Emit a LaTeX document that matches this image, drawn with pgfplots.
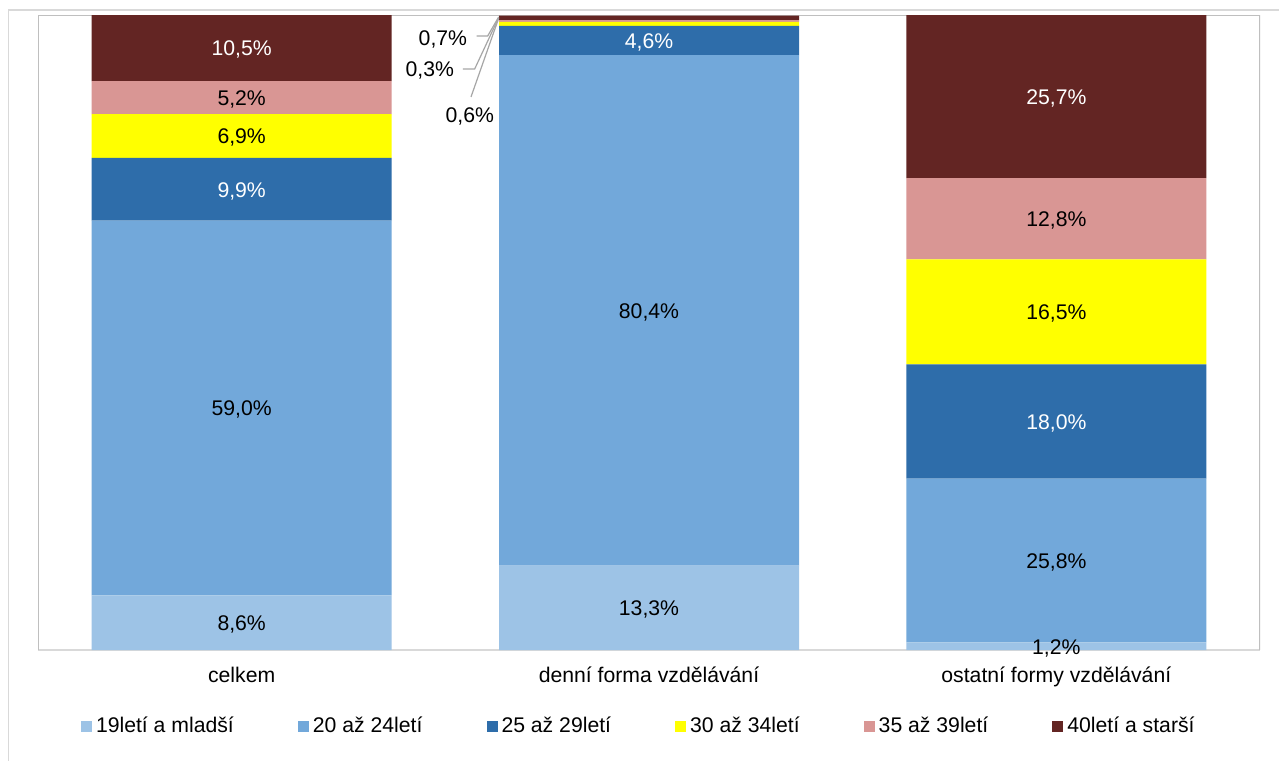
\documentclass[border=0pt]{standalone}
\usepackage{pgfplots}
\pgfplotsset{compat=1.18}
\usepackage{fontspec}
\setmainfont{Liberation Sans}
\definecolor{cA}{HTML}{9DC3E6}
\definecolor{cB}{HTML}{72A8DA}
\definecolor{cC}{HTML}{2E6DAA}
\definecolor{cD}{HTML}{FFFF00}
\definecolor{cE}{HTML}{D99694}
\definecolor{cF}{HTML}{632523}
\definecolor{frameC}{HTML}{BFBFBF}
\definecolor{borderC}{HTML}{D9D9D9}
\definecolor{leadC}{HTML}{A6A6A6}
\newcommand{\chartfont}{\fontsize{10.6}{12.7}\selectfont}
\begin{document}
\begin{tikzpicture}
\useasboundingbox (0,0) rectangle (639.5pt,-380pt);
\fill[white] (0,0) rectangle (639.5pt,-380pt);
\draw[borderC, line width=0.75pt] (4.25pt,-381pt) -- (4.25pt,-5pt) -- (640pt,-5pt);
\begin{axis}[
 at={(19pt,-325pt)}, anchor=south west,
 scale only axis, width=611pt, height=317.5pt,
 xmin=-0.5, xmax=2.5, ymin=0, ymax=100,
 enlargelimits=false,
 ybar stacked, bar width=150pt,
 axis line style={draw=none},
 xtick={0,1,2}, xticklabels={celkem, denní forma vzdělávání, ostatní formy vzdělávání},
 ytick=\empty, major tick length=0pt,
 xticklabel style={font=\chartfont, anchor=base, yshift=-16pt, inner sep=0pt},
 legend columns=6,
 legend style={at={(axis description cs:0.0352,-0.1197)}, anchor=west, draw=none, fill=none,
   inner sep=0pt, outer sep=0pt, font=\chartfont, column sep=0pt, nodes={inner sep=0pt},
   /tikz/every odd column/.append style={column sep=2pt},
   /tikz/every even column/.append style={column sep=32pt}},
 legend image code/.code={\fill[#1] (0pt,-2.75pt) rectangle (5.5pt,2.75pt);},
]
\addplot[fill=cA, draw=none] coordinates {(0,8.6) (1,13.3) (2,1.2)};
\addplot[fill=cB, draw=none] coordinates {(0,59.0) (1,80.4) (2,25.8)};
\addplot[fill=cC, draw=none] coordinates {(0,9.9) (1,4.6) (2,18.0)};
\addplot[fill=cD, draw=none] coordinates {(0,6.9) (1,0.6) (2,16.5)};
\addplot[fill=cE, draw=none] coordinates {(0,5.2) (1,0.3) (2,12.8)};
\addplot[fill=cF, draw=none] coordinates {(0,10.5) (1,0.7) (2,25.7)};
\legend{19letí a mladší, 20 až 24letí, 25 až 29letí, 30 až 34letí, 35 až 39letí, 40letí a starší}
\draw[frameC, line width=0.6pt] (rel axis cs:0,0) -- (rel axis cs:0,1) -- (rel axis cs:1,1) -- (rel axis cs:1,0);
\draw[borderC, line width=1pt] (rel axis cs:0,0) -- (rel axis cs:1,0);
\end{axis}
\begin{axis}[
 at={(19pt,-325pt)}, anchor=south west,
 scale only axis, width=611pt, height=317.5pt,
 xmin=-0.5, xmax=2.5, ymin=0, ymax=100,
 enlargelimits=false, hide axis, clip=false,
 every node near coord/.append style={font=\chartfont, anchor=center, inner sep=0pt, yshift=-0.9pt},
]
\addplot[leadC, line width=0.6pt, no marks] coordinates {(0.577,96.7) (0.604,96.7) (0.631,99.7)};
\addplot[leadC, line width=0.6pt, no marks] coordinates {(0.543,91.5) (0.572,91.5) (0.631,99.6)};
\addplot[leadC, line width=0.6pt, no marks] coordinates {(0.563,87.1) (0.631,99.5)};
\addplot[only marks, mark=none, point meta=explicit symbolic, nodes near coords={\pgfplotspointmeta},
  every node near coord/.append style={text=black}] coordinates {
 (0,4.3) [8,6\%] (0,38.1) [59,0\%] (0,80.95) [6,9\%] (0,87.0) [5,2\%]
 (1,6.65) [13,3\%] (1,53.5) [80,4\%]
 (2,0.6) [1,2\%] (2,14.1) [25,8\%] (2,53.25) [16,5\%] (2,67.9) [12,8\%]
 (0.494,96.4) [0,7\%] (0.462,91.5) [0,3\%] (0.560,84.3) [0,6\%]
};
\addplot[only marks, mark=none, point meta=explicit symbolic, nodes near coords={\pgfplotspointmeta},
  every node near coord/.append style={text=white}] coordinates {
 (0,72.55) [9,9\%] (0,94.85) [10,5\%] (1,96.0) [4,6\%] (2,36.0) [18,0\%] (2,87.15) [25,7\%]
};
\end{axis}
\end{tikzpicture}
\end{document}
